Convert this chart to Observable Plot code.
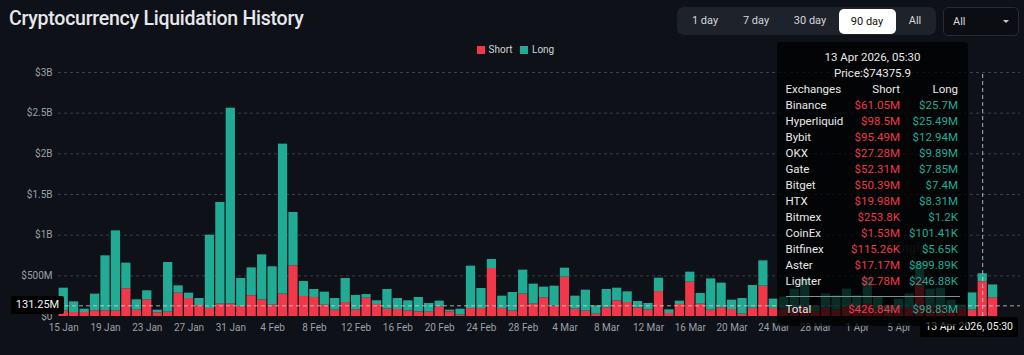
<!DOCTYPE html>
<html><head><meta charset="utf-8">
<script src="https://cdn.jsdelivr.net/npm/d3@7"></script>
<script src="https://cdn.jsdelivr.net/npm/@observablehq/plot@0.6"></script>
<style>
html,body{margin:0;padding:0;background:#0e1117;}
#wrap{position:relative;width:1024px;height:355px;overflow:hidden;font-family:Roboto,"Noto Sans",sans-serif;background:#0e1117;}
#wrap svg{position:absolute;left:0;top:0;}
.title{position:absolute;left:9px;top:9px;font-size:19.5px;line-height:20px;font-weight:500;letter-spacing:-0.25px;color:#e6e8eb;white-space:nowrap;}
.btns{position:absolute;left:677px;top:7px;width:259px;height:28px;background:#1e222a;border-radius:7px;}
.btn{position:absolute;top:0;height:28px;line-height:28px;font-size:11px;color:#d4d7dc;transform:translateX(-50%);white-space:nowrap;}
.btn.sel{top:1.5px;height:25px;line-height:25px;width:57px;text-align:center;background:#fff;color:#111;border-radius:5px;transform:none;}
.dd{position:absolute;left:943px;top:7px;width:74px;height:27px;border:1px solid #262a33;border-radius:5px;background:#0b0d12;}
.dd span{position:absolute;left:9px;top:0;line-height:27px;font-size:11px;color:#d4d7dc;}
.dd i{position:absolute;right:9px;top:12px;width:0;height:0;border-left:3px solid transparent;border-right:3px solid transparent;border-top:3px solid #c8ccd2;}
.leg{position:absolute;top:44px;font-size:10px;line-height:12px;color:#d0d3d8;white-space:nowrap;}
.leg b{display:inline-block;width:8px;height:8px;margin-right:4px;vertical-align:-1px;}
.ylab{position:absolute;left:11px;width:53px;height:18px;line-height:18px;background:#000;color:#f2f2f2;font-size:11px;text-align:center;border-radius:2px;}
.xlab{position:absolute;right:6px;top:317px;height:20px;line-height:20px;padding:0 5px;background:#000;color:#f2f2f2;font-size:10.5px;white-space:nowrap;border-radius:2px;}
.tip{position:absolute;left:777px;top:41.5px;width:191px;height:284px;background:rgba(0,0,0,0.74);border-radius:3px;font-size:11.5px;color:#e8e8e8;}
.tl{position:absolute;left:0;width:191px;height:16px;line-height:16px;}
.tl .n{position:absolute;left:8.5px;}
.tl .s{position:absolute;right:68px;}
.tl .l{position:absolute;right:10px;}
.sep{position:absolute;left:8.5px;right:8px;height:1px;background:#8a8d92;}
.wm{position:absolute;left:884px;top:240px;font-size:13px;color:rgba(255,255,255,0.16);font-weight:600;}
</style></head><body><div id="wrap"></div><script>
// ---- data ----
const startDate = "2026-01-15";
const dayCount = 90;
const seriesNames = ["Short", "Long"];
const seriesColors = ["#f0384a", "#22ab94"];
// daily liquidations, millions USD (15 Jan .. 14 Apr)
const shortM = [70,49,49,70,70,70,340,78,205,45, 53,287,221,135,98,152,152,123,254,205, 139,275,623,246,234,139,78,172,82,225,
  148,90,86,70,57,53,119,57,20,98, 98,590,98,66,275,152,230,127,484,90, 66,29,107,193,172,107,82,307,37,148,
  422,152,78,107,86,29,102,373,100,90, 110,120,60,100,80,120,90,150,80,50, 80,100,450,130,120,80,100,79,426.84,230];
const longM = [278,131,41,205,676,983,316,127,111,33, 611,90,66,86,902,1250,2409,344,344,553, 472,1844,656,184,98,160,143,295,176,45,
  45,242,135,123,177,107,70,21,70,521, 246,111,152,229,295,246,131,246,110,160, 258,102,225,155,131,77,78,164,45,41,
  123,131,385,303,115,192,279,311,114,150, 227,340,71,176,175,217,165,320,154,81, 134,176,210,207,230,120,40,211,98.83,158];
const yTicks = [0, 500, 1000, 1500, 2000, 2500, 3000];
const yTickLabels = ["$0", "$500M", "$1B", "$1.5B", "$2B", "$2.5B", "$3B"];
const xTickLabels = ["15 Jan","19 Jan","23 Jan","27 Jan","31 Jan","4 Feb","8 Feb","12 Feb","16 Feb","20 Feb","24 Feb","28 Feb","4 Mar","8 Mar","12 Mar","16 Mar","20 Mar","24 Mar","28 Mar","1 Apr","5 Apr"];
const crossValue = 131.25;
const crossLabel = "131.25M";
const crossDate = "2026-04-13";
const crossDateLabel = "13 Apr 2026, 05:30";
const priceLabel = "Price:$74375.9";
const exchanges = ["Binance","Hyperliquid","Bybit","OKX","Gate","Bitget","HTX","Bitmex","CoinEx","Bitfinex","Aster","Lighter"];
const exShort = ["$61.05M","$98.5M","$95.49M","$27.28M","$52.31M","$50.39M","$19.98M","$253.8K","$1.53M","$115.26K","$17.17M","$2.78M"];
const exLong = ["$25.7M","$25.49M","$12.94M","$9.89M","$7.85M","$7.4M","$8.31M","$1.2K","$101.41K","$5.65K","$899.89K","$246.88K"];
const totalShort = "$426.84M", totalLong = "$98.83M";
const buttons = ["1 day","7 day","30 day","90 day","All"];
const selectedButton = "90 day";

// ---- build ----
const DAY = 864e5, HALF = DAY / 2;
const d0 = new Date(startDate + "T00:00:00Z");
const dates = d3.utcDay.range(d0, d3.utcDay.offset(d0, dayCount));
const rows = [];
dates.forEach((d, i) => {
  rows.push({date: d, type: "Short", y1: 0, y2: shortM[i]});
  rows.push({date: d, type: "Long", y1: shortM[i], y2: shortM[i] + longM[i]});
});
const xTicks = xTickLabels.map((s) => d3.utcParse("%d %b %Y")(s + " 2026"));
const yFmt = new Map(yTicks.map((t, i) => [t, yTickLabels[i]]));
const cross = new Date(crossDate + "T00:00:00Z");

const W = 1024, H = 355;
const chart = Plot.plot({
  width: W, height: H,
  marginLeft: 58, marginRight: 4, marginTop: 72, marginBottom: 39,
  style: {background: "transparent", color: "#9aa0a8", fontSize: "10px", fontFamily: "Roboto, 'Noto Sans', sans-serif"},
  x: {type: "utc", domain: [new Date(+dates[0] - HALF), new Date(+dates[dates.length - 1] + HALF + 2.12 * DAY)]},
  y: {domain: [0, 3000]},
  color: {domain: seriesNames, range: seriesColors},
  marks: [
    Plot.gridY(yTicks.slice(1), {stroke: "#3a3f49", strokeOpacity: 1, strokeDasharray: "3,3"}),
    Plot.rectY(rows, {x1: d => new Date(+d.date - HALF), x2: d => new Date(+d.date + HALF), y1: "y1", y2: "y2", fill: "type", insetLeft: 0.6, insetRight: 0.6}),
    Plot.axisY(yTicks, {tickSize: 0, tickPadding: 6, tickFormat: d => yFmt.get(d), fill: "#9aa0a8"}),
    Plot.axisX(xTicks, {tickSize: 0, tickPadding: 7, tickFormat: d3.utcFormat("%-d %b"), fill: "#9aa0a8"}),
    Plot.ruleY([crossValue], {stroke: "#d8d8d8", strokeOpacity: 0.75, strokeDasharray: "4,3"}),
    Plot.ruleX([cross], {y1: 0, y2: 3000, stroke: "#d8d8d8", strokeOpacity: 0.8, strokeDasharray: "4,3"})
  ]
});
const wrap = document.getElementById("wrap");
wrap.appendChild(chart);

const add = (html) => { wrap.insertAdjacentHTML("beforeend", html); };
add(`<div class="title">Cryptocurrency Liquidation History</div>`);
const btnX = [705, 756, 810, 867, 915];
let bh = `<div class="btns">`;
buttons.forEach((b, i) => {
  if (b === selectedButton) bh += `<div class="btn sel" style="left:${btnX[i] - 677 - 28.5}px">${b}</div>`;
  else bh += `<div class="btn" style="left:${btnX[i] - 677}px">${b}</div>`;
});
bh += `</div>`;
add(bh);
add(`<div class="dd"><span>All</span><i></i></div>`);
add(`<div class="leg" style="left:476.5px"><b style="background:${seriesColors[0]}"></b>${seriesNames[0]}</div>`);
add(`<div class="leg" style="left:520px"><b style="background:${seriesColors[1]}"></b>${seriesNames[1]}</div>`);

const yS = chart.scale("y");
add(`<div class="ylab" style="top:${yS.apply(crossValue) - 9}px">${crossLabel}</div>`);
add(`<div class="xlab">${crossDateLabel}</div>`);

let t = `<div class="tip">`;
const line = (i) => 7 + 16 * i;
t += `<div class="tl" style="top:${line(0)}px;text-align:center">${crossDateLabel}</div>`;
t += `<div class="tl" style="top:${line(1)}px;text-align:center">${priceLabel}</div>`;
t += `<div class="tl" style="top:${line(2)}px"><span class="n">Exchanges</span><span class="s">Short</span><span class="l">Long</span></div>`;
exchanges.forEach((e, i) => {
  t += `<div class="tl" style="top:${line(3 + i)}px"><span class="n">${e}</span><span class="s" style="color:${seriesColors[0]}">${exShort[i]}</span><span class="l" style="color:${seriesColors[1]}">${exLong[i]}</span></div>`;
});
t += `<div class="sep" style="top:254px"></div>`;
t += `<div class="tl" style="top:259.5px"><span class="n">Total</span><span class="s" style="color:${seriesColors[0]}">${totalShort}</span><span class="l" style="color:${seriesColors[1]}">${totalLong}</span></div>`;
t += `</div>`;
add(`<div class="wm">coinglass</div>`);
add(t);
</script></body></html>
